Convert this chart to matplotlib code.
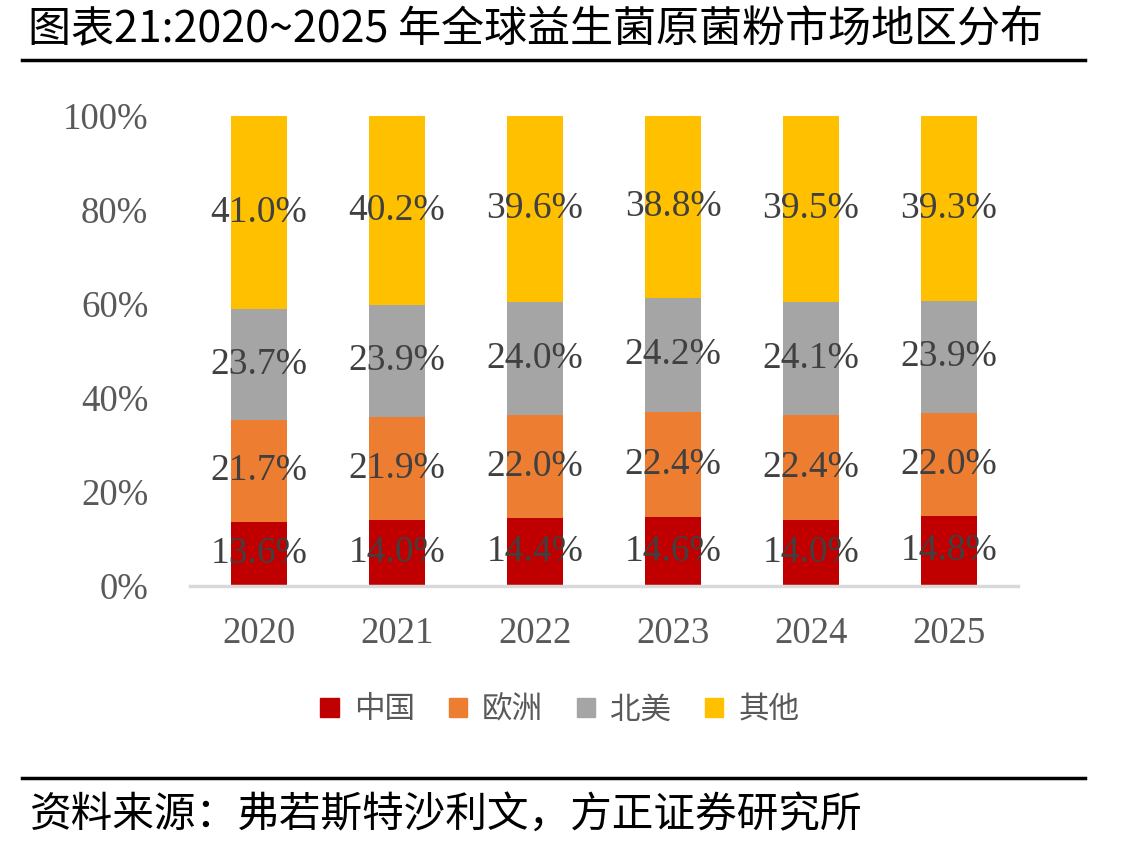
import numpy as np
import matplotlib
matplotlib.use("Agg")
import matplotlib.pyplot as plt
from matplotlib.patches import Patch
from matplotlib.lines import Line2D

years = ["2020", "2021", "2022", "2023", "2024", "2025"]
china = [13.6, 14.0, 14.4, 14.6, 14.0, 14.8]
europe = [21.7, 21.9, 22.0, 22.4, 22.4, 22.0]
north_america = [23.7, 23.9, 24.0, 24.2, 24.1, 23.9]
other = [41.0, 40.2, 39.6, 38.8, 39.5, 39.3]
series_names = ["中国", "欧洲", "北美", "其他"]
colors = ["#C00000", "#ED7D31", "#A5A5A5", "#FFC000"]

cjk = ["Noto Sans CJK SC", "DejaVu Sans"]
serif = "Liberation Serif"

fig = plt.figure(figsize=(11.35, 8.5), dpi=100)
ax = fig.add_axes([190 / 1135, 1 - 586 / 850, 828 / 1135, 470 / 850])

x = np.arange(len(years))
bottom = np.zeros(len(years))
for vals, name, c in zip([china, europe, north_america, other], series_names, colors):
    vals = np.array(vals)
    ax.bar(x, vals, 0.4, bottom=bottom, color=c, label=name, zorder=2)
    for xi, b, v in zip(x, bottom, vals):
        ax.text(xi, b + v / 2, f"{v:.1f}%", ha="center", va="center",
                fontsize=27, family=serif, color="#404040", zorder=3)
    bottom = bottom + vals

ax.set_xlim(-0.5, 5.5)
ax.set_ylim(0, 100)
ax.set_yticks([0, 20, 40, 60, 80, 100])
ax.set_yticklabels([f"{t}%" for t in [0, 20, 40, 60, 80, 100]])
ax.set_xticks(x)
ax.set_xticklabels(years)
for lab in ax.get_yticklabels() + ax.get_xticklabels():
    lab.set_family(serif)
    lab.set_fontsize(26.5)
    lab.set_color("#595959")
ax.tick_params(length=0)
ax.tick_params(axis="y", pad=30)
ax.tick_params(axis="x", pad=22)
for s in ["top", "right", "left"]:
    ax.spines[s].set_visible(False)
ax.spines["bottom"].set_color("#D9D9D9")
ax.spines["bottom"].set_linewidth(2.5)

handles = [Patch(color=c) for c in colors]
leg = fig.legend(handles, series_names, loc="center", bbox_to_anchor=(560 / 1135, 1 - 710 / 850),
                 ncol=4, frameon=False, prop={"family": cjk, "size": 22},
                 handlelength=0.6, handleheight=0.6, handletextpad=0.5, columnspacing=1.1)
for t in leg.get_texts():
    t.set_color("#595959")

fig.text(28 / 1135, 1 - 30 / 850, "图表21:2020~2025 年全球益生菌原菌粉市场地区分布",
         family=cjk, fontsize=31, va="center", ha="left", color="black")
fig.add_artist(Line2D([22 / 1135, 1085 / 1135], [1 - 60 / 850] * 2, color="black", lw=2.5))
fig.add_artist(Line2D([22 / 1135, 1085 / 1135], [1 - 778 / 850] * 2, color="black", lw=2.5))
fig.text(30 / 1135, 1 - 815 / 850, "资料来源：弗若斯特沙利文，方正证券研究所",
         family=cjk, fontsize=30, style="italic", va="center", ha="left", color="black")

fig.savefig("out.png", dpi=100)
